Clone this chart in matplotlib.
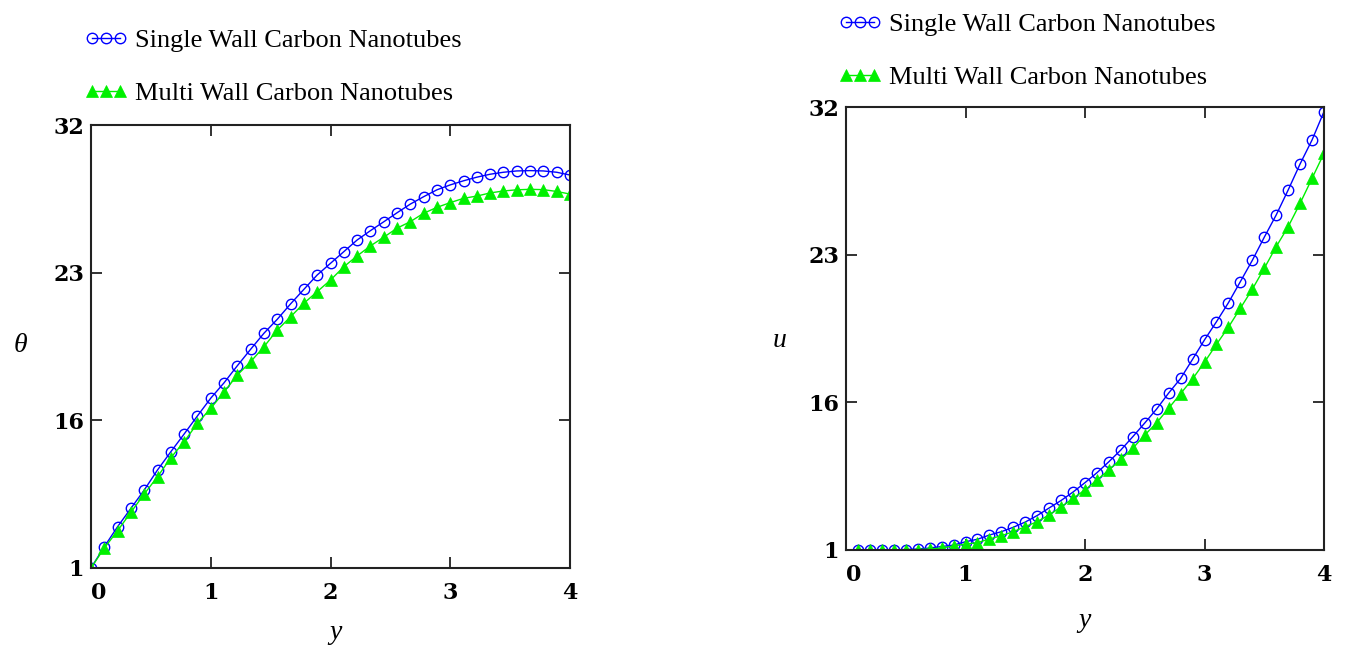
import numpy as np
import matplotlib
matplotlib.use("Agg")
import matplotlib.pyplot as plt

# ── data ────────────────────────────────────────────────────────────
Y_LEFT = np.linspace(0, 4, 37)
THETA_SWCNT = [1.00, 3.16, 5.20, 7.06, 8.92, 10.96, 12.81, 14.61, 16.21, 17.05,
               17.78, 18.59, 19.37, 20.13, 20.79, 21.52, 22.21, 22.89, 23.57, 24.28,
               24.99, 25.56, 26.10, 26.65, 27.18, 27.63, 28.05, 28.35, 28.60, 28.82,
               29.00, 29.12, 29.20, 29.22, 29.20, 29.12, 28.95]
THETA_MWCNT = [1.00, 3.03, 4.79, 6.66, 8.52, 10.27, 12.20, 13.83, 15.70, 16.57,
               17.34, 18.15, 18.78, 19.49, 20.28, 20.91, 21.55, 22.10, 22.65, 23.36,
               24.02, 24.63, 25.16, 25.71, 26.11, 26.62, 26.98, 27.27, 27.53, 27.67,
               27.86, 27.98, 28.05, 28.08, 28.06, 27.95, 27.79]

Y_RIGHT = np.arange(1, 41) / 10
U_SWCNT = [1.00, 1.00, 1.00, 1.02, 1.05, 1.10, 1.20, 1.35, 1.50, 1.84,
           2.09, 2.52, 2.86, 3.31, 3.84, 4.50, 5.27, 6.03, 6.89, 7.84,
           8.85, 9.97, 11.16, 12.51, 13.90, 15.33, 16.44, 17.13, 18.04, 18.96,
           19.82, 20.72, 21.72, 22.73, 24.06, 25.42, 26.94, 28.53, 29.99, 31.72]
U_MWCNT = [1.00, 1.00, 1.00, 1.00, 1.02, 1.05, 1.10, 1.20, 1.41, 1.61,
           1.74, 2.12, 2.45, 2.86, 3.37, 3.88, 4.56, 5.37, 6.25, 7.10,
           8.11, 9.13, 10.22, 11.33, 12.68, 13.93, 15.40, 16.41, 17.11, 17.90,
           18.75, 19.56, 20.46, 21.36, 22.35, 23.49, 24.70, 26.13, 27.65, 29.18]

X_TICKS = [0, 1, 2, 3, 4]
Y_TICKS = [1, 16, 23, 32]
SERIES_LABELS = ["Single Wall Carbon Nanotubes", "Multi Wall Carbon Nanotubes"]

BLUE = "#0000FF"
GREEN = "#00F000"
AXC = "#222222"


# the vertical axis puts 1, 16, 23, 32 at equal spacing
def fwd(v):
    v = np.asarray(v, dtype=float)
    out = np.interp(v, Y_TICKS, [0, 1, 2, 3])
    out = np.where(v < Y_TICKS[0], (v - Y_TICKS[0]) / 15.0, out)
    out = np.where(v > Y_TICKS[-1], 3 + (v - Y_TICKS[-1]) / 9.0, out)
    return out


def inv(p):
    p = np.asarray(p, dtype=float)
    out = np.interp(p, [0, 1, 2, 3], Y_TICKS)
    out = np.where(p < 0, Y_TICKS[0] + p * 15.0, out)
    out = np.where(p > 3, Y_TICKS[-1] + (p - 3) * 9.0, out)
    return out


fig = plt.figure(figsize=(13.48, 6.5), dpi=100)
fig.patch.set_facecolor("white")


def panel(rect, x, s1, s2, ylab, ylab_xy, xlab_xy, leg_xy):
    ax = fig.add_axes(rect)
    l1, = ax.plot(x, s1, color=BLUE, lw=1.0, marker="o", ms=7.5,
                  mfc="none", mec=BLUE, mew=1.0, label=SERIES_LABELS[0])
    l2, = ax.plot(x, s2, color=GREEN, lw=1.0, marker="^", ms=8,
                  mfc=GREEN, mec=GREEN, mew=0.5, label=SERIES_LABELS[1])
    ax.set_yscale("function", functions=(fwd, inv))
    ax.set_xlim(0, 4)
    ax.set_ylim(1, 32)
    ax.set_xticks(X_TICKS, labels=[str(t) for t in X_TICKS])
    ax.set_yticks(Y_TICKS, labels=[str(t) for t in Y_TICKS])
    ax.minorticks_off()
    ax.tick_params(direction="in", length=8, width=1.3, color=AXC,
                   top=True, right=True, labelsize=16, pad=5)
    ax.tick_params(axis="x", pad=10)
    for lab in ax.get_xticklabels() + ax.get_yticklabels():
        lab.set_fontfamily("DejaVu Serif")
        lab.set_fontweight("bold")
    ax.get_xticklabels()[0].set_ha("left")
    for sp in ax.spines.values():
        sp.set_color(AXC)
        sp.set_linewidth(1.5)

    ax.set_ylabel(ylab, rotation=0, fontsize=20, fontstyle="italic",
                  fontfamily="Liberation Serif", va="center")
    ax.yaxis.set_label_coords(*ylab_xy)
    ax.set_xlabel("y", fontsize=20, fontstyle="italic",
                  fontfamily="Liberation Serif")
    ax.xaxis.set_label_coords(*xlab_xy)

    ax.legend(handles=[l1, l2], loc="upper left", bbox_to_anchor=leg_xy,
              bbox_transform=fig.transFigure, frameon=False, numpoints=3,
              handlelength=1.65, handletextpad=0.3, labelspacing=1.1,
              borderpad=0, borderaxespad=0,
              prop={"family": "Liberation Serif", "size": 19})
    return ax


panel([91 / 1348, 82 / 650, 479 / 1348, 443 / 650], Y_LEFT,
      THETA_SWCNT, THETA_MWCNT, "θ", (-0.148, 0.503), (0.51, -0.117),
      (84 / 1348, 1 - 29 / 650))
panel([846 / 1348, 100 / 650, 478 / 1348, 443 / 650], Y_RIGHT,
      U_SWCNT, U_MWCNT, "u", (-0.138, 0.474), (0.50, -0.131),
      (838 / 1348, 1 - 13 / 650))

fig.savefig("out.png", dpi=100, facecolor="white")
